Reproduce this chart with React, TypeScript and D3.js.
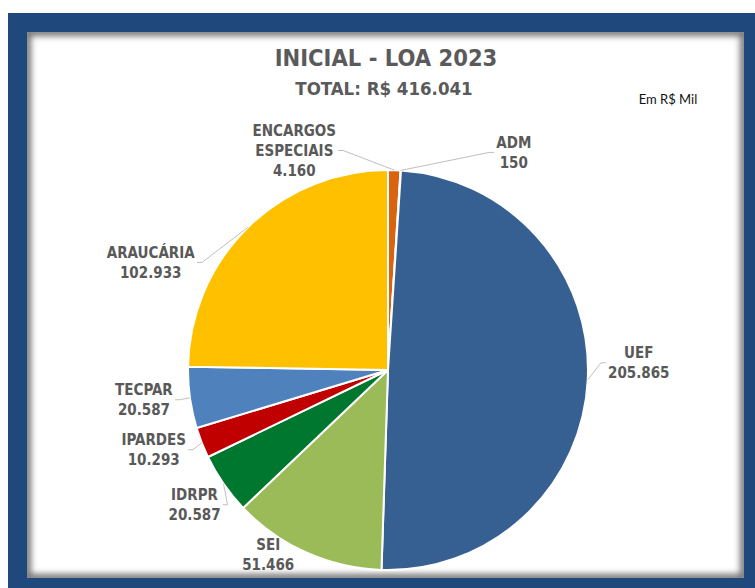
import React, { useLayoutEffect, useRef, useState } from "react";
import * as d3 from "d3";

const categories = ["ENCARGOS ESPECIAIS", "ADM", "UEF", "SEI", "IDRPR", "IPARDES", "TECPAR", "ARAUCÁRIA"];
const labelLines = [["ENCARGOS", "ESPECIAIS"], ["ADM"], ["UEF"], ["SEI"], ["IDRPR"], ["IPARDES"], ["TECPAR"], ["ARAUCÁRIA"]];
const values = [4.16, 0.15, 205.865, 51.466, 20.587, 10.293, 20.587, 102.933];
const valueLabels = ["4.160", "150", "205.865", "51.466", "20.587", "10.293", "20.587", "102.933"];
const colors = ["#D9640F", "#A5A5A5", "#376092", "#9BBB59", "#00772F", "#C00000", "#4F81BD", "#FFC000"];
const title = "INICIAL - LOA 2023";
const subtitle = "TOTAL: R$ 416.041";
const unitNote = "Em R$ Mil";

// layout nudges of label blocks relative to the slice's mid-arc point
const labelNudges: [number, number][] = [[-100, -19.6], [113, -18], [51, -17], [-38, 2], [-29, 21], [-48, 7], [-46, 2], [-97, 35]];
const showLeader = [true, true, true, false, true, true, true, true];

const W = 755;
const H = 588;
const CX = 388;
const CY = 370;
const R = 200;
const LINE_H = 19.7;
const LABEL_FONT = "'DejaVu Sans Condensed', 'DejaVu Sans', sans-serif";

export default function App() {
  const labelRefs = useRef<(SVGGElement | null)[]>([]);
  const [widths, setWidths] = useState<number[] | null>(null);

  const pie = d3.pie<number>().sort(null).value((d) => d).startAngle(0).endAngle(2 * Math.PI);
  const arcs = pie(values);
  const arcGen = d3.arc<d3.PieArcDatum<number>>().innerRadius(0).outerRadius(R);

  useLayoutEffect(() => {
    const ws = labelRefs.current.map((g) => (g ? g.getBBox().width : 0));
    setWidths(ws);
  }, []);

  const labels = arcs.map((a, i) => {
    const mid = (a.startAngle + a.endAngle) / 2;
    const px = CX + R * Math.sin(mid);
    const py = CY - R * Math.cos(mid);
    const lx = px + labelNudges[i][0];
    const ly = py + labelNudges[i][1];
    const lines = [...labelLines[i], valueLabels[i]];
    return { px, py, lx, ly, lines };
  });

  return (
    <svg width={W} height={H} style={{ position: "absolute", left: 0, top: 0, background: "#fff" }}>
      <defs>
        <clipPath id="innerClip">
          <rect x={27} y={32} width={717} height={546} />
        </clipPath>
        <filter id="blur" x="-10%" y="-10%" width="120%" height="120%">
          <feGaussianBlur stdDeviation={3} />
        </filter>
      </defs>
      <rect x={8} y={13} width={W - 8} height={H - 13} fill="#1F497D" />
      <rect x={27} y={32} width={717} height={546} fill="#fff" />
      <g clipPath="url(#innerClip)">
        <rect x={27} y={32} width={717} height={546} fill="none" stroke="#000" strokeOpacity={0.55} strokeWidth={8} filter="url(#blur)" />
      </g>

      <text x={386} y={66} textAnchor="middle" fontFamily={LABEL_FONT} fontStretch="condensed" fontWeight="bold" fontSize={23.5} fill="#5A5A5A">
        {title}
      </text>
      <text x={384} y={95} textAnchor="middle" fontFamily={LABEL_FONT} fontStretch="condensed" fontWeight="bold" fontSize={18.5} fill="#5A5A5A">
        {subtitle}
      </text>
      <text x={668} y={104} textAnchor="middle" fontFamily="Lato, 'Liberation Sans', sans-serif" fontSize={13} fill="#111">
        {unitNote}
      </text>

      <g>
        {arcs.map((a, i) => (
          <path key={categories[i]} d={arcGen(a) || ""} transform={`translate(${CX},${CY})`} fill={colors[i]} stroke="#fff" strokeWidth={2} strokeLinejoin="round" />
        ))}
      </g>

      <g>
        {widths &&
          labels.map((l, i) => {
            if (!showLeader[i]) return null;
            const half = widths[i] / 2;
            const side = l.px > l.lx ? 1 : -1;
            const ax = l.lx + side * (half + 2);
            const ay = l.ly;
            const sx = ax + side * 5;
            return (
              <polyline key={"ld" + i} points={`${ax},${ay} ${sx},${ay} ${l.px},${l.py}`} fill="none" stroke="#BFBFBF" strokeWidth={1} />
            );
          })}
      </g>

      <g>
        {labels.map((l, i) => (
          <g key={"lb" + i} ref={(el) => { labelRefs.current[i] = el; }}>
            {l.lines.map((t, j) => (
              <text
                key={j}
                x={l.lx}
                y={l.ly + (j - (l.lines.length - 1) / 2) * LINE_H + 5.5}
                textAnchor="middle"
                fontFamily={LABEL_FONT}
                fontStretch="condensed"
                fontWeight="bold"
                fontSize={15}
                fill="#595959"
              >
                {t}
              </text>
            ))}
          </g>
        ))}
      </g>
    </svg>
  );
}
